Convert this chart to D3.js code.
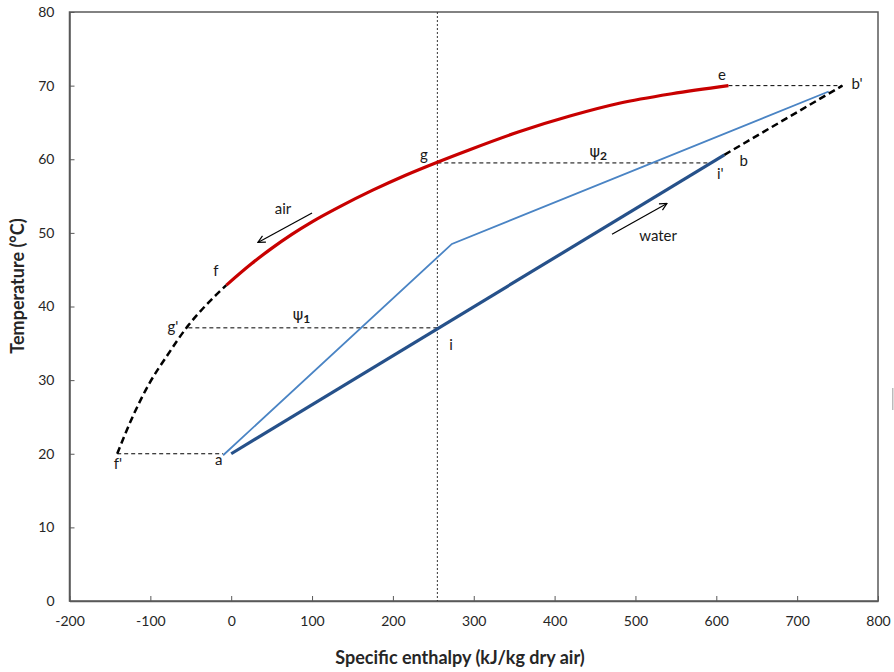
<!DOCTYPE html>
<html lang="en">
<head>
<meta charset="UTF-8">
<script src="https://d3js.org/d3.v7.min.js"></script>
<title>Enthalpy chart</title>
<style>
  body { margin: 0; background: #fff; }
  text { font-family: Lato, "Open Sans", sans-serif; }
</style>
</head>
<body>
<svg width="894" height="672"></svg>
<script>
// axis ticks
const xTicks = [-200, -100, 0, 100, 200, 300, 400, 500, 600, 700, 800];
const yTicks = [0, 10, 20, 30, 40, 50, 60, 70, 80];

// air curve (solid red, f -> e) as [enthalpy, temperature]
const airCurve = [[-6, 42.9], [25, 45.8], [50, 47.9], [75, 49.8], [100, 51.5], [135, 53.6],
  [175, 55.8], [215, 57.8], [255, 59.6], [295, 61.3], [355, 63.7], [420, 65.9],
  [480, 67.6], [545, 68.9], [615, 70.0]];
// air curve extension (dashed black, f' -> f)
const airExt = [[-141, 20.0], [-122, 25.0], [-101, 29.6], [-80, 33.2], [-54, 37.3], [-31, 40.2], [-6, 42.9]];
// water operating line a -> b and extension b -> b'
const waterLine = [[0, 20.0], [610, 60.6]];
const waterExt = [[610, 60.6], [756, 70.0]];
// thin blue line
const blueLine = [[-10, 19.8], [273, 48.5], [739, 69.2]];
// horizontal dashed tie lines
const tieT = [20.0, 37.1, 59.5, 70.0];
const tieFrom = [-141, -53, 255, 615];
const tieTo = [-10, 255, 590, 756];
const vLineX = 255;

// point labels
const labelText = ["e", "b'", "g", "b", "i'", "f", "g'", "i", "a", "f'", "air", "water"];
const labelH = [607, 774, 238.5, 634, 605, -19, -72, 272, -15.5, -140, 64, 528];
const labelT = [70.8, 69.5, 59.9, 59.1, 57.3, 44.1, 36.6, 34.1, 18.5, 17.9, 52.6, 48.9];
const psiText = ["1", "2"];
const psiH = [87, 454];
const psiT = [38.2, 60.3];
// flow arrows [from, to]
const airArrow = [[100, 52.7], [33, 48.7]];
const waterArrow = [[471, 49.8], [539, 54.0]];

const svg = d3.select("svg");
const x = d3.scaleLinear().domain([-200, 800]).range([69.5, 878]);
const y = d3.scaleLinear().domain([0, 80]).range([601, 12]);
const axisColor = "#595959";

svg.append("defs").append("marker")
  .attr("id", "arr").attr("viewBox", "0 0 10 10")
  .attr("refX", 9).attr("refY", 5)
  .attr("markerWidth", 9).attr("markerHeight", 9)
  .attr("markerUnits", "userSpaceOnUse")
  .attr("orient", "auto")
  .append("path").attr("d", "M1,1 L9,5 L1,9")
  .attr("fill", "none").attr("stroke", "#000").attr("stroke-width", 1.3);

// frame
svg.append("rect")
  .attr("x", x(-200)).attr("y", y(80))
  .attr("width", x(800) - x(-200)).attr("height", y(0) - y(80))
  .attr("fill", "none").attr("stroke", axisColor).attr("stroke-width", 1.5);

const gx = svg.append("g")
  .attr("transform", "translate(0," + y(0) + ")")
  .call(d3.axisBottom(x).tickValues(xTicks).tickFormat(d => String(d))
    .tickSizeInner(-5).tickSizeOuter(0).tickPadding(15));
const gy = svg.append("g")
  .attr("transform", "translate(" + x(-200) + ",0)")
  .call(d3.axisLeft(y).tickValues(yTicks).tickFormat(d => String(d))
    .tickSizeInner(-5).tickSizeOuter(0).tickPadding(15));
[gx, gy].forEach(g => {
  g.select(".domain").attr("stroke", axisColor).attr("stroke-width", 1.5);
  g.selectAll(".tick line").attr("stroke", axisColor);
  g.selectAll(".tick text").attr("fill", "#262626")
    .style("font-size", "14px").style("font-family", "Lato, sans-serif");
});

// axis titles
svg.append("text")
  .attr("x", 460).attr("y", 664)
  .attr("text-anchor", "middle")
  .style("font-size", "18px").style("font-weight", "bold").attr("fill", "#262626")
  .text("Specific enthalpy (kJ/kg dry air)");
svg.append("text")
  .attr("transform", "translate(24,286) rotate(-90)")
  .attr("text-anchor", "middle")
  .style("font-size", "18px").style("font-weight", "bold").attr("fill", "#262626")
  .text("Temperature (°C)");

// vertical dotted line
svg.append("line")
  .attr("x1", x(vLineX)).attr("x2", x(vLineX))
  .attr("y1", y(80)).attr("y2", y(0))
  .attr("stroke", "#333").attr("stroke-width", 1).attr("stroke-dasharray", "2,2");

// tie lines
svg.append("g").selectAll("line")
  .data(tieT)
  .enter().append("line")
  .attr("x1", (d, i) => x(tieFrom[i]))
  .attr("x2", (d, i) => x(tieTo[i]))
  .attr("y1", d => y(d)).attr("y2", d => y(d))
  .attr("stroke", "#000").attr("stroke-width", 1).attr("stroke-dasharray", "4,3");

const line = d3.line().x(d => x(d[0])).y(d => y(d[1]));
const curve = d3.line().x(d => x(d[0])).y(d => y(d[1])).curve(d3.curveMonotoneX);

svg.append("path").datum(blueLine).attr("d", line)
  .attr("fill", "none").attr("stroke", "#4A84C4").attr("stroke-width", 1.8);
svg.append("path").datum(waterLine).attr("d", line)
  .attr("fill", "none").attr("stroke", "#26518A").attr("stroke-width", 3.2);
svg.append("path").datum(waterExt).attr("d", line)
  .attr("fill", "none").attr("stroke", "#000").attr("stroke-width", 2.5).attr("stroke-dasharray", "7,4");
svg.append("path").datum(airExt).attr("d", curve)
  .attr("fill", "none").attr("stroke", "#000").attr("stroke-width", 2.5).attr("stroke-dasharray", "7,4");
svg.append("path").datum(airCurve).attr("d", curve)
  .attr("fill", "none").attr("stroke", "#C80000").attr("stroke-width", 3.2);

// arrows
[airArrow, waterArrow].forEach(a => {
  svg.append("line")
    .attr("x1", x(a[0][0])).attr("y1", y(a[0][1]))
    .attr("x2", x(a[1][0])).attr("y2", y(a[1][1]))
    .attr("stroke", "#000").attr("stroke-width", 1.2)
    .attr("marker-end", "url(#arr)");
});

// labels
svg.append("g").selectAll("text")
  .data(labelText)
  .enter().append("text")
  .attr("x", (d, i) => x(labelH[i]))
  .attr("y", (d, i) => y(labelT[i]))
  .attr("text-anchor", "middle")
  .style("font-size", "15px").attr("fill", "#1a1a1a")
  .text(d => d);

psiText.forEach((s, i) => {
  const t = svg.append("text")
    .attr("x", x(psiH[i])).attr("y", y(psiT[i]))
    .attr("text-anchor", "middle")
    .style("font-size", "16px").style("font-weight", "bold").attr("fill", "#1a1a1a");
  t.append("tspan").style("font-family", "'DejaVu Sans', sans-serif").style("font-weight", "normal").text("ψ");
  t.append("tspan").attr("dy", 3).style("font-size", "12px").text(s);
});

// small grey mark at right edge
svg.append("rect").attr("x", 892).attr("y", 388).attr("width", 1.5).attr("height", 22).attr("fill", "#bbb");
</script>
</body>
</html>
